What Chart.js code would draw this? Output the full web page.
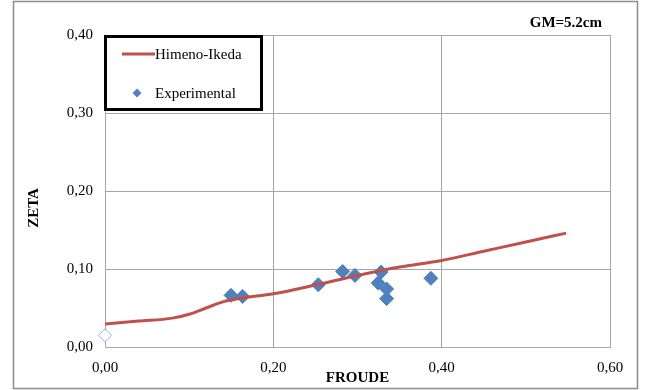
<!DOCTYPE html>
<html>
<head>
<meta charset="utf-8">
<script src="https://cdn.jsdelivr.net/npm/chart.js@4"></script>
<style>
  html, body { margin: 0; padding: 0; background: #fff; }
  #wrap { position: relative; width: 645px; height: 390px; }
</style>
</head>
<body>
<div id="wrap"><canvas id="zetaChart" width="645" height="390"></canvas></div>
<script>
// Himeno-Ikeda prediction curve
const himenoX = [0, 0.04, 0.08, 0.10, 0.12, 0.14, 0.16, 0.20, 0.25, 0.30, 0.35, 0.40, 0.45, 0.50, 0.548];
const himenoY = [0.0295, 0.0332, 0.037, 0.042, 0.050, 0.0578, 0.0623, 0.0683, 0.0795, 0.0917, 0.1025, 0.111, 0.1228, 0.1346, 0.146];

// experimental measurements
const expX = [0.1497, 0.1635, 0.2534, 0.2823, 0.297, 0.328, 0.3246, 0.3346, 0.3346, 0.3872];
const expY = [0.0662, 0.0649, 0.0799, 0.0969, 0.0918, 0.0961, 0.082, 0.0744, 0.062, 0.088];

// zero-speed point (hollow marker)
const zeroX = [0];
const zeroY = [0.015];

const xTicks = [0, 0.2, 0.4, 0.6];
const yTicks = [0, 0.1, 0.2, 0.3, 0.4];

const serif = "'Liberation Serif', 'Times New Roman', serif";
const gridGrey = '#a6a6a6';

function toPoints(xs, ys) {
  return xs.map((x, i) => ({ x: x, y: ys[i] }));
}

function comma(v) {
  return v.toFixed(2).replace('.', ',');
}

// frame, y title, GM label and legend box
const extras = {
  id: 'extras',
  beforeDraw(chart) {
    const ctx = chart.ctx;
    ctx.save();
    ctx.fillStyle = '#fff';
    ctx.fillRect(0, 0, chart.width, chart.height);
    ctx.strokeStyle = '#8c8c8c';
    ctx.lineWidth = 1.5;
    ctx.strokeRect(13.5, 1.5, 624, 387);
    ctx.restore();
  },
  afterDraw(chart) {
    const ctx = chart.ctx;
    ctx.save();
    ctx.fillStyle = '#000';
    ctx.font = 'bold 15px ' + serif;
    ctx.textAlign = 'right';
    ctx.textBaseline = 'middle';
    ctx.fillText('GM=5.2cm', 602, 23);

    ctx.translate(34, 208);
    ctx.rotate(-Math.PI / 2);
    ctx.textAlign = 'center';
    ctx.fillText('ZETA', 0, 0);
    ctx.restore();

    // legend
    const line = chart.data.datasets[0];
    const exp = chart.data.datasets[1];
    ctx.save();
    ctx.fillStyle = '#fff';
    ctx.fillRect(104, 35, 159, 76);
    ctx.strokeStyle = '#000';
    ctx.lineWidth = 3;
    ctx.strokeRect(105.5, 36.5, 156, 73);

    ctx.strokeStyle = line.borderColor;
    ctx.lineWidth = 3;
    ctx.beginPath();
    ctx.moveTo(122, 54);
    ctx.lineTo(155, 54);
    ctx.stroke();

    ctx.fillStyle = exp.backgroundColor;
    ctx.beginPath();
    ctx.moveTo(137, 88.5);
    ctx.lineTo(141.5, 93);
    ctx.lineTo(137, 97.5);
    ctx.lineTo(132.5, 93);
    ctx.closePath();
    ctx.fill();

    ctx.fillStyle = '#000';
    ctx.font = '15px ' + serif;
    ctx.textAlign = 'left';
    ctx.textBaseline = 'middle';
    ctx.fillText(line.label, 155, 55);
    ctx.fillText(exp.label, 155, 94);
    ctx.restore();
  }
};

new Chart(document.getElementById('zetaChart'), {
  type: 'scatter',
  data: {
    datasets: [
      {
        label: 'Himeno-Ikeda',
        data: toPoints(himenoX, himenoY),
        showLine: true,
        borderColor: '#c0504d',
        backgroundColor: '#c0504d',
        borderWidth: 3,
        pointRadius: 0,
        cubicInterpolationMode: 'monotone'
      },
      {
        label: 'Experimental',
        data: toPoints(expX, expY),
        showLine: false,
        pointStyle: 'rectRot',
        pointRadius: 7,
        borderWidth: 1,
        borderColor: '#4f81bd',
        backgroundColor: '#4f81bd'
      },
      {
        label: 'Zero',
        data: toPoints(zeroX, zeroY),
        showLine: false,
        clip: false,
        pointStyle: 'rectRot',
        pointRadius: 6.5,
        borderWidth: 1,
        borderColor: '#8eb4e3',
        backgroundColor: '#ffffff'
      }
    ]
  },
  options: {
    responsive: false,
    animation: false,
    layout: { padding: { left: 0, top: 35, right: 35, bottom: 3 } },
    plugins: {
      legend: { display: false },
      tooltip: { enabled: false }
    },
    scales: {
      x: {
        type: 'linear',
        min: 0,
        max: 0.6,
        afterBuildTicks: s => { s.ticks = xTicks.map(v => ({ value: v })); },
        afterFit: s => { s.height = 40; },
        ticks: {
          color: '#000',
          font: { family: serif, size: 15 },
          padding: 12,
          callback: v => comma(v)
        },
        grid: { color: gridGrey, lineWidth: 1, drawTicks: false },
        border: { color: gridGrey, width: 1 },
        title: {
          display: true,
          text: 'FROUDE',
          color: '#000',
          font: { family: serif, size: 15, weight: 'bold' },
          padding: 0
        }
      },
      y: {
        type: 'linear',
        min: 0,
        max: 0.4,
        afterBuildTicks: s => { s.ticks = yTicks.map(v => ({ value: v })); },
        afterFit: s => { s.width = 105; },
        ticks: {
          color: '#000',
          font: { family: serif, size: 15 },
          padding: 12,
          callback: v => comma(v)
        },
        grid: { color: gridGrey, lineWidth: 1, drawTicks: false },
        border: { color: gridGrey, width: 1 }
      }
    }
  },
  plugins: [extras]
});
</script>
</body>
</html>
